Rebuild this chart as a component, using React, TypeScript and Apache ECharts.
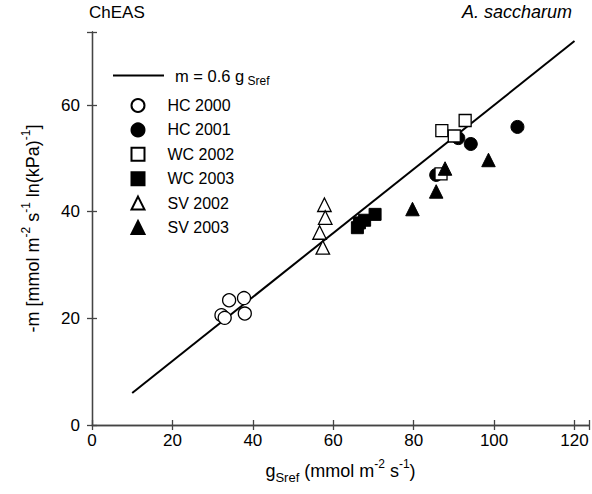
import React, { useEffect, useRef } from "react";
import * as echarts from "echarts";

// Data
const hc2000 = [[34.1, 23.4], [37.8, 23.8], [32.2, 20.6], [38.0, 20.9], [33.0, 20.1]];
const hc2001 = [[85.6, 46.9], [91.1, 53.8], [94.2, 52.7], [105.8, 55.9]];
const wc2002 = [[87.0, 55.2], [92.8, 57.1], [90.1, 54.2], [86.8, 47.1]];
const wc2003 = [[70.4, 39.5], [67.8, 38.4], [66.5, 37.9], [66.0, 37.0]];
const sv2002 = [[57.8, 41.3], [58.0, 38.9], [56.6, 36.1], [57.4, 33.3]];
const sv2003 = [[79.7, 40.5], [85.6, 43.8], [87.8, 48.1], [98.6, 49.7]];
const fitLine = [[10, 6], [120, 72]];
const seriesNames = ["HC 2000", "HC 2001", "WC 2002", "WC 2003", "SV 2002", "SV 2003"];
const seriesSymbols = ["circle", "circle", "rect", "rect", "triangle", "triangle"];
const xTickStep = 20;
const yTickStep = 20;

const FONT = "Liberation Sans, Arial, sans-serif";

export default function App() {
  const ref = useRef<HTMLDivElement>(null);
  useEffect(() => {
    if (!ref.current) return;
    const chart = echarts.init(ref.current, null, { renderer: "svg" });
    const openStyle = { color: "#fff", borderColor: "#000", borderWidth: 1.3, opacity: 1 };
    const fillStyle = { color: "#000", borderColor: "#000", borderWidth: 1, opacity: 1 };
    const scatter = (name: string, data: number[][], symbol: string, size: number, style: any) => ({
      name,
      type: "scatter",
      data,
      symbol,
      symbolSize: size,
      itemStyle: style,
      emphasis: { disabled: true },
      xAxisIndex: 0,
      yAxisIndex: 0,
    });
    const axisCommon = {
      type: "value",
      axisLine: { show: true, lineStyle: { color: "#444", width: 1.3 } },
      axisTick: { show: true, inside: true, length: 5, lineStyle: { color: "#444", width: 1.3 } },
      splitLine: { show: false },
    };
    const richName = {
      n: { fontSize: 18, fontFamily: FONT, color: "#000", lineHeight: 26, verticalAlign: "middle" },
      sup: { fontSize: 12, fontFamily: FONT, color: "#000", lineHeight: 13, verticalAlign: "top" },
      sub: { fontSize: 13, fontFamily: FONT, color: "#000", lineHeight: 13, verticalAlign: "bottom" },
    };
    chart.setOption({
      animation: false,
      textStyle: { fontFamily: FONT },
      title: [
        { text: "ChEAS", left: 89, top: 4, padding: 0, textStyle: { fontSize: 17, fontWeight: "normal", color: "#000", fontFamily: FONT } },
        { text: "A. saccharum", right: 20, top: 3, padding: 0, textStyle: { fontSize: 18, fontWeight: "normal", fontStyle: "italic", color: "#000", fontFamily: FONT } },
      ],
      grid: { left: 92, right: 2, top: 32, bottom: 69, containLabel: false },
      xAxis: [
        {
          ...axisCommon,
          position: "bottom",
          min: 0,
          max: 123.6,
          interval: xTickStep,
          axisLabel: {
            fontSize: 17, color: "#000", margin: 7, fontFamily: FONT,
            formatter: (v: number) => (v % xTickStep === 0 ? String(v) : ""),
          },
          name: "{n|g}{sub|Sref}{n| (mmol m}{sup|-2}{n| s}{sup|-1}{n|)}",
          nameLocation: "middle",
          nameGap: 33,
          nameTextStyle: { rich: richName },
        },
        {
          ...axisCommon,
          position: "top",
          min: 0,
          max: 123.6,
          interval: xTickStep,
          axisLabel: { show: false },
        },
      ],
      yAxis: [
        {
          ...axisCommon,
          position: "left",
          min: 0,
          max: 73.7,
          interval: yTickStep,
          axisLabel: {
            fontSize: 17, color: "#000", margin: 12, fontFamily: FONT,
            formatter: (v: number) => (v % yTickStep === 0 ? String(v) : ""),
          },
          name: "{n|-m [mmol m}{sup|-2}{n| s}{sup|-1}{n| ln(kPa)}{sup|-1}{n|]}",
          nameLocation: "middle",
          nameGap: 46,
          nameRotate: 90,
          nameTextStyle: { rich: richName },
        },
        {
          ...axisCommon,
          position: "right",
          min: 0,
          max: 73.7,
          interval: yTickStep,
          axisLabel: { show: false },
        },
      ],
      legend: [
        {
          data: [{ name: "fit", icon: "rect" }],
          orient: "vertical",
          left: 113,
          top: 67,
          padding: 0,
          itemWidth: 51,
          itemHeight: 2,
          formatter: () => "{n|m = 0.6 g}{sub| Sref}",
          selectedMode: false,
          textStyle: {
            padding: [0, 0, 0, 6],
            rich: {
              n: { fontSize: 16.5, fontFamily: FONT, color: "#000", lineHeight: 22, verticalAlign: "middle" },
              sub: { fontSize: 12, fontFamily: FONT, color: "#000", lineHeight: 12, verticalAlign: "bottom" },
            },
          },
        },
        {
          data: seriesNames.map((n, i) => ({ name: n, icon: seriesSymbols[i] })),
          orient: "vertical",
          left: 130.5,
          top: 97.5,
          padding: 0,
          itemWidth: 13,
          itemHeight: 13,
          itemGap: 8.4,
          selectedMode: false,
          textStyle: { fontSize: 16, color: "#000", fontFamily: FONT, padding: [0, 0, 0, 18] },
        },
      ],
      series: [
        {
          name: "fit",
          type: "line",
          data: fitLine,
          symbol: "none",
          showSymbol: false,
          lineStyle: { color: "#000", width: 2 },
          itemStyle: { color: "#000" },
          emphasis: { disabled: true },
          z: 1,
        },
        scatter(seriesNames[0], hc2000, seriesSymbols[0], 13, openStyle),
        scatter(seriesNames[1], hc2001, seriesSymbols[1], 13, fillStyle),
        scatter(seriesNames[2], wc2002, seriesSymbols[2], 12, openStyle),
        scatter(seriesNames[3], wc2003, seriesSymbols[3], 12, fillStyle),
        scatter(seriesNames[4], sv2002, seriesSymbols[4], 13.5, openStyle),
        scatter(seriesNames[5], sv2003, seriesSymbols[5], 13.5, fillStyle),
      ],
    });
    return () => chart.dispose();
  }, []);
  return <div ref={ref} style={{ width: 592, height: 494, position: "absolute", left: 0, top: 0, background: "#fff" }} />;
}
